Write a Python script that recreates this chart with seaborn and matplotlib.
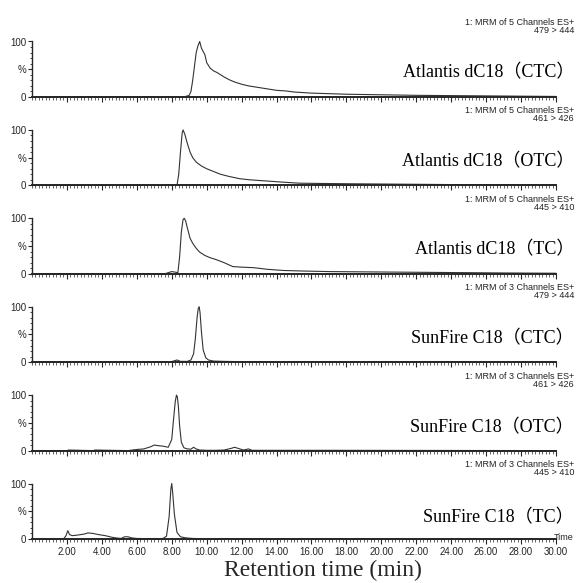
import matplotlib
matplotlib.use('Agg')
import matplotlib.pyplot as plt
import matplotlib.ticker as mticker
import numpy as np
import pandas as pd
import seaborn as sns

# --- data (time in min, relative intensity in %) ---
t_atl_ctc = [0, 4.9, 5.0, 5.1, 8.5, 8.8, 9.0, 9.1, 9.2, 9.3, 9.4, 9.5, 9.6, 9.7, 9.8, 9.9,
             10.0, 10.2, 10.4, 10.6, 10.8, 11.0, 11.3, 11.6, 12.0, 12.4, 12.8, 13.2, 13.6,
             14.0, 14.5, 15.0, 16, 17, 18, 20, 22, 24, 26, 28, 30]
i_atl_ctc = [0, 0, 0.8, 0, 0, 1, 3, 10, 30, 55, 80, 92, 100, 88, 82, 76,
             62, 52, 47, 44, 40, 36, 31, 27, 23, 20, 18, 16, 14,
             12, 11, 9, 7, 6, 5, 4, 3, 2.5, 2, 1.5, 1]

t_atl_otc = [0, 8.3, 8.4, 8.5, 8.6, 8.65, 8.75, 8.9, 9.05, 9.2, 9.4, 9.7, 10.0, 10.4, 10.8,
             11.3, 11.9, 12.5, 13.4, 14.3, 15.3, 16.5, 18, 20, 22, 24, 26, 28, 30]
i_atl_otc = [0, 0, 20, 60, 95, 100, 92, 75, 60, 50, 42, 35, 30, 25, 20,
             16, 12, 10, 8, 6, 4, 3.5, 3, 2.5, 2, 1.5, 1.2, 1, 0.5]

t_atl_tc = [0, 7.6, 7.8, 8.0, 8.2, 8.35, 8.45, 8.55, 8.65, 8.72, 8.8, 8.9, 9.05, 9.2, 9.4,
            9.6, 9.9, 10.2, 10.5, 10.76, 11.0, 11.5, 12.0, 12.7, 13.5, 14.4, 15.5, 17, 19,
            21, 23, 25, 27, 30]
i_atl_tc = [0, 0, 2, 4, 3, 2, 30, 75, 98, 100, 95, 82, 64, 55, 46,
            39, 33, 29, 26, 23, 20, 13, 12, 11, 8, 6, 5, 4, 3.5,
            3, 2.5, 2, 1.5, 1]

t_sun_ctc = [0, 7.8, 8.1, 8.3, 8.5, 8.9, 9.1, 9.25, 9.35, 9.45, 9.52, 9.57, 9.62, 9.7, 9.8,
             9.95, 10.1, 10.4, 11, 12, 13, 14, 30]
i_sun_ctc = [0, 0, 2, 4, 1.5, 1.5, 4, 15, 42, 80, 97, 100, 90, 55, 22,
             8, 4, 2, 1.5, 1, 0.8, 0.5, 0]

t_sun_otc = [0, 2.0, 2.1, 3.5, 3.6, 5.5, 6.0, 6.4, 6.8, 7.0, 7.2, 7.5, 7.8, 8.0, 8.1, 8.2,
             8.27, 8.32, 8.38, 8.45, 8.55, 8.7, 8.9, 9.1, 9.25, 9.4, 9.6, 10.0, 10.5, 11.0,
             11.4, 11.6, 11.8, 12.1, 12.4, 12.6, 13, 15, 17, 30]
i_sun_otc = [0, 0, 1, 0, 1, 0, 2, 3, 7, 10, 9, 8, 6, 20, 55, 88,
             100, 97, 80, 45, 15, 5, 3, 2.5, 6, 3, 1, 0.5, 0.5, 1,
             4, 6, 4, 1, 3, 0.5, 0.5, 0.5, 0.5, 0]

t_sun_tc = [0, 1.8, 1.95, 2.05, 2.15, 2.3, 2.6, 3.0, 3.2, 3.5, 3.8, 4.2, 4.6, 4.8, 5.1,
            5.3, 5.5, 5.7, 6.0, 7.0, 7.5, 7.7, 7.85, 7.95, 8.0, 8.05, 8.15, 8.3, 8.5, 8.8,
            9.2, 10, 30]
i_sun_tc = [0, 0, 6, 15, 8, 6, 7, 9, 11, 10, 8, 6, 3, 2, 1,
            4, 4, 2, 1, 0.5, 1, 5, 40, 90, 100, 85, 45, 12, 4, 2,
            1, 0.5, 0]

labels = ['Atlantis dC18\uff08CTC\uff09', 'Atlantis dC18\uff08OTC\uff09', 'Atlantis dC18\uff08TC\uff09',
          'SunFire C18\uff08CTC\uff09', 'SunFire C18\uff08OTC\uff09', 'SunFire C18\uff08TC\uff09']
headers = ['1: MRM of 5 Channels ES+'] * 3 + ['1: MRM of 3 Channels ES+'] * 3
transitions = ['479 > 444', '461 > 426', '445 > 410', '479 > 444', '461 > 426', '445 > 410']
x_ticks = [2, 4, 6, 8, 10, 12, 14, 16, 18, 20, 22, 24, 26, 28, 30]

traces = [(t_atl_ctc, i_atl_ctc), (t_atl_otc, i_atl_otc), (t_atl_tc, i_atl_tc),
          (t_sun_ctc, i_sun_ctc), (t_sun_otc, i_sun_otc), (t_sun_tc, i_sun_tc)]

sns.set_style('ticks')
narrow = ['Liberation Sans Narrow', 'Liberation Sans']
serif = ['Liberation Serif', 'Noto Sans CJK SC']

W, H = 577, 583
fig = plt.figure(figsize=(W / 100, H / 100), dpi=100)

label_y = [73, 162, 250, 339, 428, 518]
right_edge = 574 / W

for k, (t, inten) in enumerate(traces):
    yb = 97 + 88.4 * k
    top = yb - 55.5
    ax = fig.add_axes([32 / W, 1 - yb / H, (556 - 32) / W, 55.5 / H])
    df = pd.DataFrame({'t': t, 'i': inten})
    sns.lineplot(data=df, x='t', y='i', ax=ax, color='#333333', lw=0.8, clip_on=False)
    ax.set_xlim(0, 30)
    ax.set_ylim(0, 100)
    ax.set_xlabel('')
    ax.set_ylabel('')
    ax.patch.set_alpha(0)
    for s in ['top', 'right']:
        ax.spines[s].set_visible(False)
    ax.spines['left'].set_linewidth(1.0)
    ax.spines['bottom'].set_linewidth(1.4)
    ax.set_yticks([0, 50, 100])
    ax.set_yticklabels(['0', '%', '100'], fontfamily=narrow, fontsize=7)
    ax.yaxis.set_minor_locator(mticker.MultipleLocator(10))
    ax.tick_params(axis='y', which='major', length=3, width=0.8, pad=1)
    ax.tick_params(axis='y', which='minor', length=1.5, width=0.6)
    ax.set_xticks(x_ticks)
    ax.xaxis.set_minor_locator(mticker.MultipleLocator(0.2))
    ax.tick_params(axis='x', which='major', length=3.5, width=0.8, pad=2)
    ax.tick_params(axis='x', which='minor', length=2, width=0.5)
    if k == 5:
        ax.set_xticklabels([f'{v:.2f}' for v in x_ticks], fontfamily=narrow, fontsize=7)
    else:
        ax.set_xticklabels([])

    # header text above each trace
    fig.text(right_edge, 1 - (top - 19) / H, headers[k], fontfamily=narrow, fontsize=6.5,
             ha='right', va='center', color='#222222')
    fig.text(right_edge, 1 - (top - 11) / H, transitions[k], fontfamily=narrow, fontsize=6.5,
             ha='right', va='center', color='#222222')
    fig.text(right_edge, 1 - label_y[k] / H, labels[k], fontfamily=serif, fontsize=13,
             ha='right', va='center', color='black')

fig.text(right_edge, 1 - 537 / H, 'Time', fontfamily=narrow, fontsize=6.5, ha='right', va='center')
fig.text(323 / W, 1 - 570 / H, 'Retention time (min)', fontfamily=['Liberation Serif'],
         fontsize=17, ha='center', va='center')

fig.savefig('out.png', dpi=100)
